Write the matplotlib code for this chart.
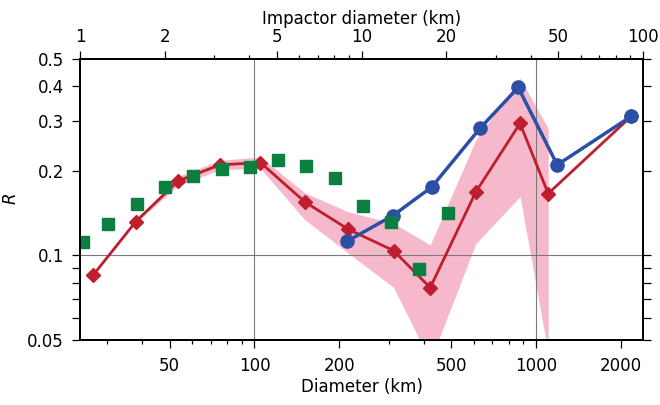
import numpy as np
import matplotlib
matplotlib.use('Agg')
import matplotlib.pyplot as plt
from matplotlib.ticker import FixedLocator, NullFormatter, FixedFormatter

# data
red_d = [26.7, 37.9, 53.5, 75.3, 105, 151, 215, 312, 421, 611, 878, 1105, 2183]
red_r = [0.085, 0.132, 0.184, 0.210, 0.214, 0.155, 0.124, 0.104, 0.0768, 0.168, 0.295, 0.166, 0.313]

blue_d = [214, 310, 426, 632, 865, 1190, 2183]
blue_r = [0.1125, 0.1385, 0.175, 0.283, 0.396, 0.210, 0.313]

green_d = [24.5, 30.3, 38.2, 48.1, 60.6, 76.4, 96.3, 121.3, 152.9, 192.7, 243, 306, 385.6, 486]
green_r = [0.112, 0.129, 0.152, 0.175, 0.192, 0.203, 0.206, 0.219, 0.208, 0.189, 0.150, 0.132, 0.0892, 0.142]

band_d = [37.9, 53.5, 75.3, 105, 151, 215, 312, 421, 611, 878, 1105]
band_lo = [0.131, 0.177, 0.202, 0.204, 0.134, 0.102, 0.077, 0.042, 0.11, 0.162, 0.045]
band_hi = [0.133, 0.191, 0.218, 0.224, 0.167, 0.143, 0.130, 0.109, 0.257, 0.427, 0.283]

x_major = [50, 100, 200, 500, 1000, 2000]
x_minor = [30, 40, 60, 70, 80, 90, 300, 400, 600, 700, 800, 900]
top_major = [1, 2, 5, 10, 20, 50, 100]
top_minor = [3, 4, 6, 7, 8, 9, 30, 40, 60, 70, 80, 90]
y_major = [0.05, 0.1, 0.2, 0.3, 0.4, 0.5]
y_minor = [0.06, 0.07, 0.08, 0.09]

scale = 24.0  # diameter / impactor diameter

RED = '#BE1E2D'
BLUE = '#2C4FA6'
GREEN = '#0B7F3F'
PINK = '#F6B8CB'

plt.rcParams['font.family'] = ['DejaVu Sans']
plt.rcParams['font.size'] = 12

fig = plt.figure(figsize=(6.6, 4.05), dpi=100)
ax = fig.add_axes([80/660, 1-340/405, (643-80)/660, (340-59)/405])

ax.set_xscale('log')
ax.set_yscale('log')
ax.set_xlim(24, 2400)
ax.set_ylim(0.05, 0.5)

ax.fill_between(band_d, band_lo, band_hi, color=PINK, lw=0, zorder=1)

for v in [100, 1000]:
    ax.axvline(v, color='#7a7a7a', lw=0.8, zorder=2)
ax.axhline(0.1, color='#7a7a7a', lw=0.8, zorder=2)

ax.plot(red_d, red_r, color=RED, lw=2, marker='D', ms=7, zorder=3)
ax.plot(blue_d, blue_r, color=BLUE, lw=2.5, marker='o', ms=9.5, zorder=4)
ax.plot(green_d, green_r, ls='none', color=GREEN, marker='s', ms=8, zorder=5)

ax.xaxis.set_major_locator(FixedLocator(x_major))
ax.xaxis.set_major_formatter(FixedFormatter([str(v) for v in x_major]))
ax.xaxis.set_minor_locator(FixedLocator(x_minor))
ax.xaxis.set_minor_formatter(NullFormatter())
ax.yaxis.set_major_locator(FixedLocator(y_major))
ax.yaxis.set_major_formatter(FixedFormatter([str(v) for v in y_major]))
ax.yaxis.set_minor_locator(FixedLocator(y_minor))
ax.yaxis.set_minor_formatter(NullFormatter())

ax.tick_params(axis='x', which='major', direction='out', length=5.5, width=0.9, pad=7)
ax.tick_params(axis='x', which='minor', direction='out', length=3, width=0.9)
ax.tick_params(axis='y', which='both', direction='out', length=5.5, width=0.9, pad=6,
               right=True)

for s in ax.spines.values():
    s.set_linewidth(1.4)

ax2 = ax.twiny()
ax2.set_xscale('log')
lo, hi = ax.get_xlim()
ax2.set_xlim(lo/scale, hi/scale)
ax2.xaxis.set_major_locator(FixedLocator(top_major))
ax2.xaxis.set_major_formatter(FixedFormatter([str(v) for v in top_major]))
ax2.xaxis.set_minor_locator(FixedLocator(top_minor))
ax2.xaxis.set_minor_formatter(NullFormatter())
ax2.tick_params(axis='x', which='major', direction='out', length=5.5, width=0.9, pad=4)
ax2.tick_params(axis='x', which='minor', direction='out', length=3, width=0.9)
for s in ax2.spines.values():
    s.set_linewidth(1.4)

ax.set_xlabel('Diameter (km)', labelpad=2)
ax2.set_xlabel('Impactor diameter (km)', labelpad=3)
fig.text(11/660, 1-198/405, 'R', rotation=90, style='italic', ha='center', va='center', fontsize=12)

fig.savefig('out.png', dpi=100)
